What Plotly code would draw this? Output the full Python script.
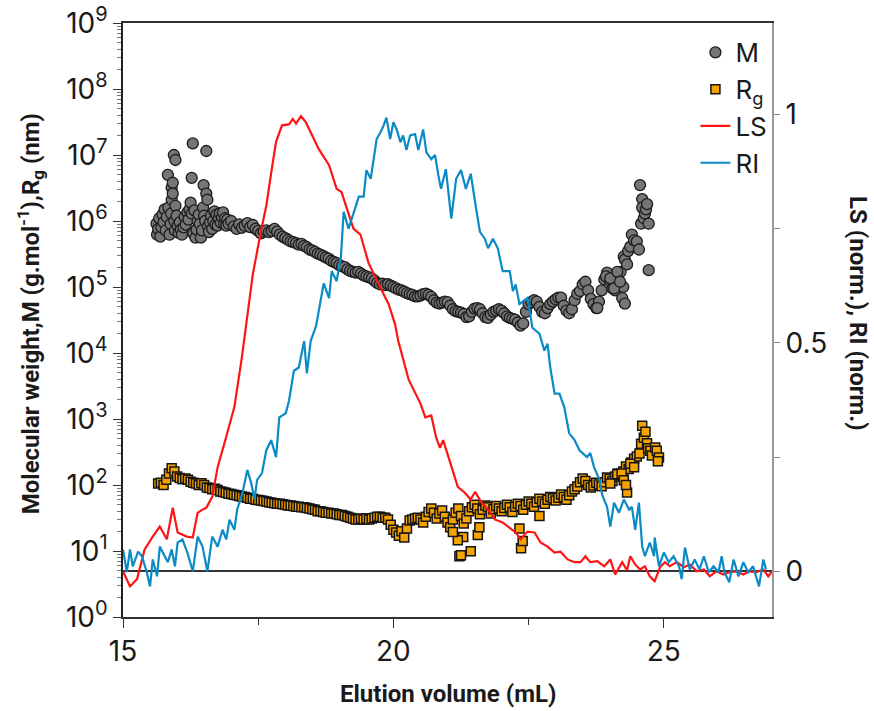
import plotly.graph_objects as go

# ---------------- data ----------------
# Light scattering (normalised), elution volume in mL
ls_points = [
    (15.00, 0.000), (15.13, -0.033), (15.26, -0.017), (15.40, 0.048), (15.55, 0.076), (15.68, 0.098),
    (15.81, 0.070), (15.92, 0.139), (16.01, 0.085), (16.10, 0.080), (16.18, 0.076), (16.29, 0.074),
    (16.38, 0.128), (16.47, 0.135), (16.54, 0.139), (16.65, 0.163), (16.75, 0.228), (16.91, 0.295),
    (17.06, 0.360), (17.20, 0.470), (17.30, 0.560), (17.40, 0.650), (17.56, 0.750), (17.65, 0.800),
    (17.75, 0.880), (17.83, 0.940), (17.94, 0.976), (18.07, 0.978), (18.14, 0.990), (18.20, 0.980),
    (18.29, 0.996), (18.38, 0.983), (18.47, 0.961), (18.62, 0.924), (18.81, 0.889), (18.95, 0.837),
    (19.04, 0.830), (19.14, 0.793), (19.26, 0.750), (19.39, 0.737), (19.54, 0.675), (19.72, 0.630),
    (19.91, 0.585), (20.03, 0.541), (20.09, 0.504), (20.28, 0.420), (20.50, 0.367), (20.59, 0.337),
    (20.70, 0.341), (20.79, 0.293), (20.86, 0.270), (20.92, 0.287), (21.05, 0.239), (21.19, 0.185),
    (21.32, 0.172), (21.43, 0.157), (21.51, 0.174), (21.62, 0.152), (21.75, 0.135), (21.88, 0.113),
    (22.02, 0.107), (22.15, 0.096), (22.26, 0.085), (22.35, 0.070), (22.48, 0.087), (22.61, 0.085),
    (22.72, 0.063), (22.85, 0.054), (22.98, 0.041), (23.09, 0.043), (23.22, 0.026), (23.35, 0.020),
    (23.46, 0.020), (23.55, 0.033), (23.64, 0.020), (23.77, 0.022), (23.90, 0.011), (24.01, 0.026),
    (24.10, -0.007), (24.23, 0.020), (24.32, 0.002), (24.38, 0.033), (24.47, 0.015), (24.56, 0.004),
    (24.65, 0.011), (24.74, -0.011), (24.83, -0.022), (24.93, 0.009), (25.02, 0.020), (25.11, 0.011),
    (25.24, 0.020), (25.37, 0.009), (25.48, 0.015), (25.61, 0.000), (25.74, 0.004), (25.85, -0.011),
    (25.97, 0.000), (26.10, -0.007), (26.21, -0.002), (26.34, 0.000), (26.47, -0.007), (26.58, 0.000),
    (26.71, -0.002), (26.84, 0.004), (26.93, -0.011), (27.00, 0.000),
]

# Refractive index (normalised)
ri_points = [
    (15.00, 0.048), (15.07, -0.002), (15.13, 0.048), (15.18, 0.011), (15.28, 0.043), (15.35, 0.033),
    (15.44, -0.002), (15.50, -0.033), (15.55, 0.026), (15.63, -0.011), (15.68, 0.054), (15.74, 0.041),
    (15.83, 0.020), (15.90, 0.048), (15.96, 0.011), (16.01, 0.063), (16.10, 0.070), (16.19, 0.041),
    (16.29, 0.000), (16.38, 0.076), (16.47, 0.054), (16.56, 0.000), (16.65, 0.076), (16.75, 0.054),
    (16.84, 0.091), (16.91, 0.070), (16.97, 0.113), (17.06, 0.091), (17.11, 0.135), (17.21, 0.172),
    (17.30, 0.222), (17.37, 0.193), (17.43, 0.157), (17.48, 0.200), (17.57, 0.215), (17.65, 0.265),
    (17.74, 0.287), (17.83, 0.250), (17.89, 0.337), (18.01, 0.346), (18.07, 0.374), (18.16, 0.439),
    (18.25, 0.446), (18.35, 0.504), (18.40, 0.433), (18.47, 0.504), (18.57, 0.537), (18.62, 0.570),
    (18.71, 0.630), (18.81, 0.598), (18.86, 0.657), (18.95, 0.635), (19.03, 0.689), (19.08, 0.787),
    (19.17, 0.750), (19.26, 0.783), (19.36, 0.820), (19.45, 0.820), (19.50, 0.878), (19.58, 0.859),
    (19.63, 0.896), (19.69, 0.946), (19.76, 0.961), (19.82, 0.976), (19.87, 0.993), (19.94, 0.946),
    (20.00, 0.983), (20.06, 0.967), (20.13, 0.939), (20.18, 0.954), (20.24, 0.922), (20.31, 0.954),
    (20.40, 0.957), (20.46, 0.922), (20.55, 0.967), (20.61, 0.917), (20.70, 0.902), (20.77, 0.911),
    (20.83, 0.867), (20.88, 0.837), (20.97, 0.880), (21.07, 0.772), (21.16, 0.859), (21.25, 0.878),
    (21.34, 0.837), (21.43, 0.870), (21.53, 0.793), (21.60, 0.743), (21.69, 0.728), (21.75, 0.707),
    (21.84, 0.728), (21.93, 0.707), (22.02, 0.657), (22.15, 0.657), (22.21, 0.613), (22.26, 0.628),
    (22.33, 0.585), (22.48, 0.598), (22.57, 0.533), (22.70, 0.520), (22.79, 0.483), (22.85, 0.498),
    (22.90, 0.446), (22.98, 0.389), (23.07, 0.389), (23.16, 0.359), (23.25, 0.302), (23.35, 0.287),
    (23.44, 0.265), (23.53, 0.254), (23.58, 0.250), (23.64, 0.259), (23.71, 0.228), (23.81, 0.200),
    (23.86, 0.167), (23.95, 0.141), (24.01, 0.098), (24.08, 0.150), (24.17, 0.128), (24.26, 0.157),
    (24.36, 0.135), (24.41, 0.141), (24.47, 0.091), (24.54, 0.150), (24.60, 0.054), (24.65, 0.033),
    (24.74, 0.063), (24.82, 0.033), (24.83, 0.074), (24.91, 0.011), (25.00, 0.041), (25.09, 0.020),
    (25.18, 0.033), (25.28, 0.011), (25.33, -0.017), (25.39, 0.052), (25.48, 0.004), (25.57, 0.026),
    (25.66, 0.004), (25.74, 0.033), (25.83, -0.002), (25.92, 0.011), (26.01, -0.002), (26.07, 0.033),
    (26.12, -0.002), (26.21, -0.024), (26.29, 0.026), (26.38, -0.011), (26.47, 0.020), (26.56, -0.002),
    (26.65, 0.011), (26.76, -0.033), (26.84, 0.026), (26.89, 0.004),
]

# Molar mass M (g/mol)
m_points = [
    (15.62, 9.1e5), (15.63, 6.2e5), (15.65, 7.6e5), (15.67, 1.1e6), (15.69, 5.8e5), (15.71, 8.0e5),
    (15.73, 1.25e6), (15.75, 9.5e5), (15.77, 1.5e6), (15.79, 7.2e5), (15.81, 1.15e6), (15.83, 5.0e6),
    (15.84, 1.6e6), (15.86, 6.2e5), (15.88, 9.0e5), (15.89, 1.3e6), (15.90, 2.1e6), (15.90, 3.2e6),
    (15.92, 2.6e6), (15.92, 3.8e6), (15.94, 1.0e7), (15.95, 1.0e6), (15.96, 7.2e5), (15.97, 8.4e6),
    (15.97, 1.7e6), (15.99, 1.2e6), (16.01, 8.5e5), (16.03, 6.6e5), (16.05, 9.5e5), (16.07, 7.4e5),
    (16.09, 6.2e5), (16.12, 8.0e5), (16.14, 1.15e6), (16.16, 8.8e5), (16.19, 1.35e6), (16.21, 1.05e6),
    (16.23, 1.5e6), (16.25, 1.9e6), (16.27, 4.5e6), (16.27, 1.3e6), (16.29, 1.5e7), (16.30, 6.5e5),
    (16.32, 1.45e6), (16.34, 5.6e5), (16.36, 7.4e5), (16.38, 1.0e6), (16.40, 1.25e6), (16.42, 9.0e5),
    (16.44, 5.6e5), (16.46, 7.2e5), (16.48, 1.6e6), (16.49, 3.5e6), (16.50, 1.2e6), (16.52, 1.0e6),
    (16.54, 2.6e6), (16.54, 1.15e7), (16.56, 2.1e6), (16.57, 8.2e5), (16.59, 6.8e5), (16.61, 9.5e5),
    (16.63, 1.2e6), (16.65, 7.6e5), (16.67, 1.0e6), (16.69, 1.4e6), (16.71, 8.8e5), (16.73, 1.25e6),
    (16.75, 8.5e5), (16.77, 1.1e6), (16.79, 1.3e6), (16.81, 9.4e5), (16.83, 1.15e6), (16.85, 1.35e6),
    (16.87, 9.0e5), (16.89, 1.1e6), (16.91, 8.5e5), (16.93, 1.05e6),
    (16.95, 9.1e5), (17.00, 1.0e6), (17.05, 8.3e5), (17.10, 7.6e5), (17.15, 8.9e5), (17.20, 7.9e5),
    (17.25, 8.5e5), (17.30, 9.3e5), (17.35, 8.1e5), (17.40, 8.7e5), (17.45, 7.6e5), (17.50, 7.1e5),
    (17.55, 6.5e5), (17.60, 6.9e5), (17.65, 7.2e5), (17.70, 6.8e5), (17.75, 7.1e5), (17.80, 7.6e5),
    (17.85, 6.9e5), (17.90, 6.2e5), (17.95, 5.8e5), (18.00, 5.5e5), (18.05, 5.2e5), (18.10, 4.9e5),
    (18.15, 4.8e5), (18.20, 4.6e5), (18.25, 4.4e5), (18.30, 4.5e5), (18.35, 4.2e5), (18.40, 4.0e5),
    (18.45, 3.7e5), (18.50, 3.6e5), (18.55, 3.4e5), (18.60, 3.2e5), (18.65, 3.1e5), (18.70, 2.95e5),
    (18.75, 2.8e5), (18.80, 2.7e5), (18.85, 2.5e5), (18.90, 2.4e5), (18.95, 2.3e5), (19.00, 2.15e5),
    (19.05, 2.05e5), (19.10, 2.0e5), (19.15, 1.85e5), (19.20, 1.75e5), (19.25, 1.7e5), (19.30, 1.65e5),
    (19.35, 1.7e5), (19.40, 1.6e5), (19.45, 1.5e5), (19.50, 1.45e5), (19.55, 1.4e5), (19.60, 1.35e5),
    (19.65, 1.25e5), (19.70, 1.15e5), (19.75, 1.1e5), (19.80, 1.12e5), (19.85, 1.07e5), (19.90, 1.1e5),
    (19.95, 1.05e5), (20.00, 1.0e5), (20.05, 9.5e4), (20.10, 9.1e4), (20.15, 8.9e4), (20.20, 8.5e4),
    (20.25, 8.1e4), (20.30, 7.8e4), (20.35, 7.6e4), (20.40, 7.2e4), (20.45, 7.2e4), (20.50, 7.4e4),
    (20.55, 7.8e4), (20.60, 7.9e4), (20.65, 7.6e4), (20.70, 7.1e4), (20.75, 6.3e4), (20.80, 5.8e4),
    (20.85, 5.6e4), (20.90, 5.8e4), (20.95, 6.0e4), (21.00, 5.9e4), (21.05, 5.2e4), (21.10, 4.6e4),
    (21.15, 4.3e4), (21.20, 4.2e4), (21.25, 4.1e4), (21.30, 3.9e4), (21.35, 3.5e4), (21.40, 3.6e4),
    (21.45, 4.2e4), (21.50, 4.7e4), (21.55, 4.8e4), (21.60, 4.6e4), (21.65, 4.0e4), (21.70, 3.5e4),
    (21.75, 3.4e4), (21.80, 3.8e4), (21.85, 4.2e4), (21.90, 4.4e4), (21.95, 4.6e4), (22.00, 4.4e4),
    (22.05, 4.0e4), (22.10, 3.6e4), (22.15, 3.4e4), (22.20, 3.3e4), (22.25, 3.2e4), (22.30, 2.9e4),
    (22.35, 2.6e4), (22.40, 2.8e4), (22.45, 4.2e4), (22.50, 5.5e4), (22.55, 5.9e4), (22.60, 6.3e4),
    (22.65, 6.0e4), (22.70, 5.0e4), (22.75, 4.2e4), (22.80, 4.0e4), (22.85, 4.8e4), (22.90, 5.5e4),
    (22.95, 6.0e4), (23.00, 6.5e4), (23.05, 6.9e4), (23.10, 6.9e4), (23.15, 5.2e4), (23.20, 4.4e4),
    (23.25, 4.0e4), (23.30, 4.6e4), (23.35, 6.3e4), (23.40, 7.9e4), (23.45, 8.7e4), (23.50, 1.1e5),
    (23.55, 1.2e5), (23.60, 8.9e4), (23.65, 6.6e4), (23.70, 5.5e4), (23.75, 4.8e4), (23.80, 6.0e4),
    (23.85, 8.9e4), (23.90, 1.3e5), (23.95, 1.65e5), (24.00, 1.25e5), (24.05, 9.5e4), (24.10, 8.9e4),
    (24.15, 1.25e5), (24.20, 1.7e5), (24.25, 1.0e5),
    (23.77, 4.8e4), (23.93, 1.45e5), (24.01, 1.35e5), (24.08, 9.5e4), (24.14, 1.7e5), (24.19, 1.2e5),
    (24.23, 6.8e4), (24.26, 2.9e5), (24.28, 5.6e4), (24.28, 2.6e5), (24.32, 2.2e5), (24.34, 3.5e5),
    (24.38, 4.1e5), (24.41, 6.2e5), (24.45, 5.1e5), (24.50, 4.9e5), (24.54, 3.7e5), (24.56, 3.5e6),
    (24.58, 9.1e5), (24.60, 2.15e6), (24.60, 1.6e6), (24.63, 1.1e6), (24.65, 1.3e6), (24.67, 1.5e6),
    (24.69, 1.8e6), (24.72, 9.1e5), (24.72, 1.8e5),
]

# Radius of gyration Rg (nm)
rg_points = [
    (15.65, 105), (15.70, 108), (15.75, 100), (15.80, 120), (15.85, 150), (15.90, 180), (15.95, 160),
    (16.00, 135), (16.05, 128), (16.10, 122), (16.15, 126), (16.20, 120), (16.25, 112), (16.30, 108),
    (16.35, 105), (16.40, 100), (16.45, 106), (16.50, 100), (16.55, 92), (16.60, 90), (16.65, 86),
    (16.70, 88), (16.75, 84), (16.80, 80), (16.85, 78), (16.90, 76), (16.95, 74), (17.00, 73),
    (17.05, 71), (17.10, 70), (17.15, 68), (17.20, 67), (17.25, 66), (17.30, 64), (17.35, 62),
    (17.40, 62), (17.45, 60), (17.50, 59), (17.55, 58), (17.60, 57), (17.65, 56), (17.70, 55),
    (17.75, 54), (17.80, 53), (17.85, 52), (17.90, 52), (17.95, 51), (18.00, 50), (18.05, 49),
    (18.10, 49), (18.15, 48), (18.20, 47), (18.25, 47), (18.30, 46), (18.35, 46), (18.40, 45),
    (18.45, 44), (18.50, 43), (18.55, 42), (18.60, 40), (18.65, 40), (18.70, 39), (18.75, 38),
    (18.80, 38), (18.85, 37), (18.90, 37), (18.95, 36), (19.00, 35), (19.05, 35), (19.10, 34),
    (19.15, 33), (19.20, 32), (19.25, 31), (19.30, 30), (19.35, 30), (19.40, 31), (19.45, 30),
    (19.50, 31), (19.55, 30), (19.60, 31), (19.65, 32), (19.70, 33), (19.75, 33), (19.80, 32),
    (19.85, 32), (19.90, 30), (19.95, 25), (20.00, 21), (20.05, 19), (20.10, 17), (20.15, 20),
    (20.20, 16), (20.25, 22), (20.30, 29), (20.35, 30), (20.40, 31), (20.45, 32), (20.50, 30),
    (20.55, 27), (20.60, 33), (20.65, 39), (20.70, 44), (20.75, 38), (20.80, 31), (20.85, 37),
    (20.90, 41), (20.95, 33), (21.00, 27), (21.05, 23), (21.10, 30), (21.15, 38), (21.20, 44),
    (21.25, 34), (21.30, 26), (21.35, 31), (21.40, 40), (21.45, 46), (21.50, 50), (21.55, 44),
    (21.60, 36), (21.65, 42), (21.70, 49), (21.75, 46), (21.80, 37), (21.85, 43), (21.90, 48),
    (21.95, 44), (22.00, 40), (22.05, 45), (22.10, 50), (22.15, 46), (22.20, 39), (22.25, 47),
    (22.30, 52), (22.35, 48), (22.40, 42), (22.45, 50), (22.50, 56), (22.55, 52), (22.60, 47),
    (22.65, 55), (22.70, 62), (22.75, 56), (22.80, 52), (22.85, 60), (22.90, 66), (22.95, 63),
    (23.00, 58), (23.05, 64), (23.10, 72), (23.15, 66), (23.20, 60), (23.25, 70), (23.30, 80),
    (23.35, 86), (23.40, 95), (23.45, 110), (23.50, 125), (23.55, 115), (23.60, 100), (23.65, 92),
    (23.70, 98), (23.75, 108), (23.80, 102), (23.85, 96), (23.90, 110), (23.95, 130), (24.00, 124),
    (24.05, 115), (24.10, 135), (24.15, 150), (24.20, 140), (24.25, 160), (24.30, 190), (24.35, 175),
    (24.40, 220), (24.45, 250), (24.50, 270),
    # scattered points
    (21.22, 8.3), (21.25, 8.6), (21.43, 9.9), (21.29, 16.3), (21.56, 17.5), (21.19, 14.5),
    (22.36, 11.0), (22.39, 14.2), (22.33, 22.0), (22.70, 34.0), (21.59, 23.0), (21.10, 19.4),
    (24.01, 105), (24.14, 145), (24.22, 150), (24.26, 118), (24.32, 77), (24.30, 100), (24.38, 210),
    (24.45, 185), (24.55, 300), (24.58, 420), (24.60, 790), (24.63, 520), (24.66, 640), (24.69, 430),
    (24.71, 360), (24.75, 330), (24.78, 280), (24.84, 370), (24.87, 330), (24.91, 260), (24.89, 230),
]

ls_x = [p[0] for p in ls_points]; ls_y = [p[1] for p in ls_points]
ri_x = [p[0] for p in ri_points]; ri_y = [p[1] for p in ri_points]
m_x = [p[0] for p in m_points]; m_y = [p[1] for p in m_points]
rg_x = [p[0] for p in rg_points]; rg_y = [p[1] for p in rg_points]

x_ticks = [15, 20, 25]
log_tick_vals = [10 ** n for n in range(10)]
log_tick_text = ["10<sup><span style='font-size:20px'>%d</span></sup>" % n for n in range(10)]
y2_ticks = [0, 0.5, 1]
y2_tick_text = ["0", "0.5", "1"]

FONT = "Inter, Roboto, Arial, sans-serif"
TITLE_FONT = "Roboto, Inter, Arial, sans-serif"
TICK_SIZE = 28

fig = go.Figure()
fig.add_trace(go.Scatter(
    x=m_x, y=m_y, mode="markers", name="M",
    marker=dict(symbol="circle", size=11, color="#767676", line=dict(color="#1c1c1c", width=1.3)),
))
fig.add_trace(go.Scatter(
    x=rg_x, y=rg_y, mode="markers", name="R<sub>g</sub>",
    marker=dict(symbol="square", size=9, color="#F5A300", line=dict(color="#141414", width=1.5)),
))
fig.add_trace(go.Scatter(
    x=ls_x, y=ls_y, mode="lines", name="LS", yaxis="y2",
    line=dict(color="#FF1414", width=2.2),
))
fig.add_trace(go.Scatter(
    x=ri_x, y=ri_y, mode="lines", name="RI", yaxis="y2",
    line=dict(color="#0B8BC6", width=2.2),
))

fig.update_layout(
    width=874, height=711,
    margin=dict(l=123, r=102, t=23, b=94, autoexpand=False),
    paper_bgcolor="white", plot_bgcolor="white",
    font=dict(family=FONT, size=TICK_SIZE, color="#1a1a1a"),
    showlegend=True,
    legend=dict(x=0.882, y=0.99, xanchor="left", yanchor="top",
                bgcolor="rgba(0,0,0,0)", font=dict(size=26, family=FONT), tracegroupgap=0),
    xaxis=dict(
        range=[15, 27], tickmode="array", tickvals=x_ticks, automargin=False,
        ticks="outside", ticklen=9, tickwidth=1.2, tickcolor="#333",
        showline=True, linecolor="#333", linewidth=1.5, mirror=True,
        showgrid=False, zeroline=False, ticklabeloverflow="allow",
        minor=dict(tickmode="array", tickvals=[17.5, 22.5], ticks="outside", ticklen=6,
                   tickwidth=1, tickcolor="#333", showgrid=False),
        tickfont=dict(size=TICK_SIZE),
    ),
    yaxis=dict(
        type="log", range=[0, 9], tickmode="array", tickvals=log_tick_vals, ticktext=log_tick_text,
        automargin=False,
        ticks="outside", ticklen=8, tickwidth=1.2, tickcolor="#333",
        showline=True, linecolor="#222", linewidth=1.5,
        showgrid=False, zeroline=False, ticklabeloverflow="allow",
        minor=dict(tickmode="array",
                   tickvals=[k * 10 ** n for n in range(9) for k in range(2, 10)],
                   ticks="outside", ticklen=4, tickwidth=1, tickcolor="#777", showgrid=False),
        tickfont=dict(size=28),
    ),
    yaxis2=dict(
        overlaying="y", side="right", range=[-0.1, 1.2], automargin=False,
        tickmode="array", tickvals=y2_ticks, ticktext=y2_tick_text,
        ticks="outside", ticklen=6, tickwidth=1.2, tickcolor="#888",
        showline=True, linecolor="#999", linewidth=2,
        showgrid=False, zeroline=True, zerolinecolor="#333", zerolinewidth=1.5,
        ticklabeloverflow="allow",
        minor=dict(tickmode="array", tickvals=[0.25, 0.75], ticks="outside", ticklen=6,
                   tickwidth=1, tickcolor="#888", showgrid=False),
        tickfont=dict(size=TICK_SIZE),
    ),
    annotations=[
        dict(text="<b>Elution volume (mL)</b>", xref="paper", yref="paper",
             x=0.5, y=-0.13, xanchor="center", yanchor="middle", showarrow=False,
             font=dict(size=24, family=TITLE_FONT)),
        dict(text="<b>Molecular weight,M (g.mol<sup>-1</sup>),R<sub>g</sub> (nm)</b>",
             xref="paper", yref="paper", x=-0.143, y=0.51, textangle=-90,
             xanchor="center", yanchor="middle", showarrow=False, font=dict(size=24, family=TITLE_FONT)),
        dict(text="<b>LS (norm.), RI (norm.)</b>", xref="paper", yref="paper",
             x=1.1325, y=0.51, textangle=90, xanchor="center", yanchor="middle",
             showarrow=False, font=dict(size=24, family=TITLE_FONT)),
    ],
)

fig.write_html("out.html")
